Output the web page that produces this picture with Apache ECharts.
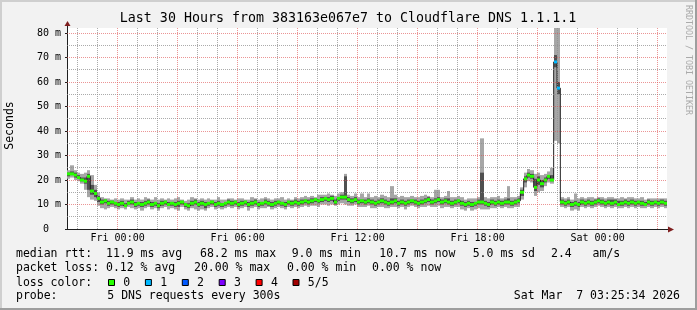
<!DOCTYPE html>
<html><head><meta charset="utf-8">
<script src="https://cdn.jsdelivr.net/npm/echarts@6/dist/echarts.min.js"></script>
<style>html,body{margin:0;padding:0;background:#f2f2f2}#c{width:697px;height:310px}</style>
</head><body><div id="c"></div>
<script>
// ---- data (10-minute samples, hours relative to Fri 00:00) ----
const START_HOUR = -2.53;
const END_HOUR = 27.47;
const SAMPLE_HOURS = 1 / 6;

const median = [
22.5,22.5,22,21,20,19.5,21.5,15.5,14.5,12.5,
11,11.5,10.5,11,10.5,10,10.5,9.5,10.5,11,
10,10.5,10,10.5,11,10,10.5,9.5,10.5,11,
10,10.5,10,10.5,11,10,9.5,10.5,11,10,
10.5,10,10.5,11,10,10.5,10,10.5,11,10.5,
11,10,10.5,11,10,10.5,11,10,10.5,11,
10.5,10,10.5,11,10.5,10,11,10.5,11,10.5,
11,11.5,11,11.5,12,11.5,12,12.5,12,12.5,
11,12.5,13,13,12,11.5,12,11,11.5,11,
11.5,11,10.5,11,11.5,11,10.5,11,11.5,10.5,
11,10.5,11,11.5,11,10.5,11,11.5,12,11,
11.5,12,11,11.5,11,10.5,11,11.5,10.5,10,
10.5,10,10.5,11,11,10.5,10,11,10.5,11,
10.5,11,11,10.5,11,11.5,15,20.5,22,21.5,
17,20,18.5,20,21.5,20,68.2,57.5,11,10.5,
11,10,10.5,10,11,10.5,11,10.5,11,11.5,
11,10.5,11,10.5,11,10,10.5,11,10.5,11,
10.5,11,10.5,10,11,10.5,11,10.5,11,10.5
];
const smokeLo = [
20.5,21,20,19.5,18.5,16,13,12,11.5,9.5,
8.5,8,8.5,9,8.5,8,8.5,8,9,8.5,
8,8.5,7.5,8.5,9,8,8.5,7.5,8.5,9,
8,8.5,8,7.5,9,8,7.5,8.5,8,7.5,
8,7.5,8.5,9,8,8.5,8,8.5,9,8.5,
9,8,8.5,9,7.5,8.5,9,8,8.5,8.5,
9,8,8.5,9,8.5,8,9,8.5,9,8.5,
9,9.5,9,9.5,9.5,9,10,10,9.5,10,
9.5,10,10.5,10,9.5,9.5,10,9,9,9,
9.5,8.5,8.5,9,9,8.5,8.5,9,9,8.5,
9,8,9,9.5,9,8.5,9,9,9.5,9,
9,9.5,8.5,9,9,8.5,9,9,8,7.5,
8.5,7.5,8,8.5,8,8,8,8.5,8.5,9,
8.5,9,8.5,8.5,9,9,12,17,19.5,19,
13.5,15,15.5,17.5,19,18.5,36,35,9,8.5,
9,7.5,8,7.5,9,8.5,9,8.5,9,9.5,
9,8.5,9,8.5,9,8.5,8.5,9,8.5,9,
8.5,9,8.5,8.5,9,8.5,9,8.5,9,8.5
];
const smokeQ1 = [
21.5,22,21,20.5,19.5,18.5,16,14,13,11,
10,10.5,9.5,10,9.5,9,9.5,9,10,10,
9,9.5,9,9.5,10,9,9.5,8.5,9.5,10,
9.5,9.5,9,9,10,9,8.5,9.5,10,9,
9.5,8.5,9.5,10,9,9.5,9,9.5,10,9.5,
10,9,9.5,10,9,9.5,10,9,9.5,10,
9.5,9,9.5,10,9.5,9,10,9.5,10,9.5,
10,10.5,10,10.5,11,10.5,11,11.5,11,11.5,
10,11.5,12,12,11,10.5,11,10,10.5,10,
10.5,10,9.5,10,10.5,10,9.5,10,10.5,9.5,
10,9.5,10,10.5,10,9.5,10,10.5,11,10,
10.5,11,10,10.5,10,9.5,10,10.5,9.5,9,
9.5,9,9.5,10,10,9.5,9,10,9.5,10,
9.5,10,10,9.5,10,10.5,13.5,19,21,20.5,
15.5,18,17,19,20.5,19.5,66,55,10,9.5,
10,9,9.5,9,10,9.5,10,9.5,10,10.5,
10,9.5,10,9.5,10,9.5,9.5,10,9.5,10,
9.5,10,9.5,9.5,10,9.5,10,9.5,10,9.5
];
const smokeQ3 = [
23,23.5,23,22,21,21,22.5,18,16,13.5,
12,12,11.5,11.5,11,11,11.5,10.5,11.5,12,
11,11,11,11.5,12,11,11,10.5,11.5,11.5,
11,11,11,11.5,11.5,10.5,10.5,11.5,12,11,
11.5,11,11,11.5,11,11.5,10.5,11,12,11.5,
11.5,11,11.5,11.5,11,11.5,12,11,11,12,
11.5,11,11.5,11.5,11,11,11.5,11.5,12,11.5,
12,12,12,12.5,12.5,12,13,13,13,13.5,
12,13,14,21.5,13,12.5,13,12,12,12,
12.5,12,11.5,12,12.5,12,11.5,12.5,12.5,11.5,
12,11.5,12,12,12,11.5,12,12.5,13,12,
12.5,13,12,12.5,12.5,11.5,12,12,11.5,11,
11.5,11,11,12,23,11.5,11,12,11.5,12,
11.5,12,12.5,11.5,12,12.5,16,21.5,23,22.5,
20.5,21.5,20,21,22,22,71,60,12,11.5,
12,11,11.5,11,12,11.5,12,11.5,12,12.5,
12,11.5,12,12,12,11.5,11.5,12,11.5,12,
11.5,11.5,11.5,11,12,11.5,11.5,11.5,12,11.5
];
const smokeHi = [
24,26,24,23,22.5,23,24,22,18,15,
13,12.5,12.5,12,12.5,12,12.5,12,12,13,
12,12.5,12,13,12.5,12,13,12,12.5,12,
12.5,12,12.5,13,12,11.5,12,13,12.5,12,
12.5,12,12.5,12,12,13,12,12,12.5,12.5,
12,12.5,12.5,12,12,13,12.5,12,12.5,13,
12.5,12,12.5,12.5,13,12,12.5,12,13,12.5,
13,13.5,13,13.5,13,14,14,14,14.5,14,
13.5,14.5,15,22.5,14,13.5,14.5,13,14.5,13,
14.5,13,13.5,13,14,13.5,13,17.5,14,13,
13.5,13,13,13.5,13,13,13.5,14,13.5,13,
16,16,13,13.5,15.5,13,13,13.5,13,12,
12.5,12.5,12.5,13,37,13,12.5,13,13,13.5,
12.5,13,17.5,13,13,13.5,17,23,24.5,24,
22.5,23,22,22.5,23.5,25,100,100,13,12.5,
13,12,14.5,12.5,13,12.5,13,13,12.5,13,
13,12.5,13,13,12.5,12.5,13,12.5,13,13,
12.5,12.5,13,12,12.5,12.5,12.5,12.5,12.5,12.5
];
// samples with lost pings: [sample index, pings lost]
const lossSamples = [[146, 1], [147, 1]];

const xTickHours = [0, 6, 12, 18, 24];
const xTickLabels = ['Fri 00:00', 'Fri 06:00', 'Fri 12:00', 'Fri 18:00', 'Sat 00:00'];
const yTicks = [0, 10, 20, 30, 40, 50, 60, 70, 80];
const Y_MAX = 82.04;
const lossLevels = ['0', '1', '2', '3', '4', '5/5'];
const lossColors = ['#26ff00', '#00b8ff', '#0059ff', '#7e00ff', '#ff0000', '#a10000'];

const titleText = 'Last 30 Hours from 383163e067e7 to Cloudflare DNS 1.1.1.1';
const legendRows = [
  [['median rtt:  11.9 ms avg', 16], ['68.2 ms max', 200], ['9.0 ms min', 291.7], ['10.7 ms now', 379.3], ['5.0 ms sd', 472.7], ['2.4   am/s', 551]],
  [['packet loss: 0.12 % avg', 16], ['20.00 % max', 194], ['0.00 % min', 287], ['0.00 % now', 372]],
  [['loss color:', 16]],
  [['probe:', 16], ['5 DNS requests every 300s', 107.3]]
];
const stampText = 'Sat Mar  7 03:25:34 2026';

// ---- layout / style ----
const GL = 67, GT = 28, GW = 600, GH = 201;
const MONO = '"DejaVu Sans Mono", monospace';
const MED_HALF = 0.6;

const hoursOf = median.map((_, i) => START_HOUR + (i + 0.5) * SAMPLE_HOURS);
const lossAt = median.map(() => 0);
lossSamples.forEach(([i, l]) => { lossAt[i] = l; });

// each sample drawn as a column [x-step/2, x+step/2] x [low, high]
function columnSeries(low, high, colorOf, z) {
  return {
    type: 'custom', z, silent: true, animation: false,
    data: low.map((v, i) => [hoursOf[i], v, high[i], i]),
    encode: { x: 0, y: [1, 2] },
    renderItem: (params, api) => {
      const h = api.value(0), a = api.value(1), b = api.value(2), idx = api.value(3);
      const color = colorOf(idx);
      if (!color) return null;
      const p0 = api.coord([h - SAMPLE_HOURS / 2, b]);
      const p1 = api.coord([h + SAMPLE_HOURS / 2, a]);
      const x0 = Math.round(p0[0]), x1 = Math.round(p1[0]);
      const cs = params.coordSys;
      const r = echarts.graphic.clipRectByRect(
        { x: x0, y: p0[1], width: x1 - x0, height: p1[1] - p0[1] },
        { x: cs.x, y: cs.y, width: cs.width, height: cs.height });
      if (!r) return null;
      return { type: 'rect', shape: r, style: { fill: color } };
    }
  };
}

const minorV = [], majorV = [];
for (let h = Math.ceil(START_HOUR); h <= Math.floor(END_HOUR); h++) {
  (h % 3 === 0 ? majorV : minorV).push({ xAxis: h });
}
const minorH = [], majorH = [];
for (let v = 5; v < Y_MAX; v += 5) {
  (v % 10 === 0 ? majorH : minorH).push({ yAxis: v });
}
function gridSeries(items, color) {
  return {
    type: 'line', data: [], silent: true, z: 1, animation: false,
    markLine: {
      silent: true, symbol: ['none', 'none'], label: { show: false }, animation: false,
      lineStyle: { color, width: 1, type: [1, 1] }, emphasis: { disabled: true }, data: items
    }
  };
}

const medLow = median.map((v) => v - MED_HALF);
const medHigh = median.map((v) => v + MED_HALF);

const series = [
  gridSeries(minorV.concat(minorH), 'rgba(143,143,143,0.75)'),
  gridSeries(majorV.concat(majorH), 'rgba(222,79,79,0.6)'),
  columnSeries(smokeLo, smokeHi, () => '#a6a6a6', 2),
  columnSeries(smokeQ1, smokeQ3, () => '#505050', 3),
  {
    type: 'line', step: 'middle', symbol: 'none', showSymbol: false, silent: true, animation: false, z: 4,
    data: median.map((v, i) => [hoursOf[i], v]), lineStyle: { color: '#202020', width: 1 }
  },
  columnSeries(medLow, medHigh, (i) => lossColors[lossAt[i]], 5)
];

// ---- graphic texts & frame ----
const graphic = [
  { type: 'rect', shape: { x: 0, y: 0, width: 697, height: 2 }, style: { fill: '#cfcfcf' }, silent: true },
  { type: 'rect', shape: { x: 0, y: 0, width: 2, height: 310 }, style: { fill: '#cfcfcf' }, silent: true },
  { type: 'rect', shape: { x: 0, y: 308, width: 697, height: 2 }, style: { fill: '#9e9e9e' }, silent: true },
  { type: 'rect', shape: { x: 695, y: 0, width: 2, height: 310 }, style: { fill: '#9e9e9e' }, silent: true },
  { type: 'text', x: 348, y: 19, style: { text: titleText, font: '13.3px ' + MONO, fill: '#000', align: 'center', verticalAlign: 'middle' } },
  { type: 'text', x: 10.5, y: 125.5, rotation: Math.PI / 2, style: { text: 'Seconds', font: '11.5px ' + MONO, fill: '#000', align: 'center', verticalAlign: 'middle' } },
  { type: 'text', x: 688.5, y: 60, rotation: -Math.PI / 2, style: { text: 'RRDTOOL / TOBI OETIKER', font: '8.3px ' + MONO, fill: '#aaaaaa', align: 'center', verticalAlign: 'middle' } },
  // axis arrows
  { type: 'line', shape: { x1: GL + 0.5, y1: GT, x2: GL + 0.5, y2: GT - 3 }, style: { stroke: '#1f1f1f', lineWidth: 1 } },
  { type: 'polygon', shape: { points: [[GL - 2.5, GT - 2], [GL + 3.5, GT - 2], [GL + 0.5, GT - 7]] }, style: { fill: '#7f1f1f' } },
  { type: 'line', shape: { x1: GL + GW, y1: GT + GH + 0.5, x2: GL + GW + 2, y2: GT + GH + 0.5 }, style: { stroke: '#1f1f1f', lineWidth: 1 } },
  { type: 'polygon', shape: { points: [[GL + GW + 1, GT + GH - 2.5], [GL + GW + 1, GT + GH + 3.5], [GL + GW + 7, GT + GH + 0.5]] }, style: { fill: '#7f1f1f' } },
  { type: 'text', x: 680, y: 296.3, style: { text: stampText, font: '11.5px ' + MONO, fill: '#000', align: 'right', verticalAlign: 'middle' } }
];
const rowY = [254.3, 268.3, 282.7, 296.3];
legendRows.forEach((row, r) => {
  row.forEach(([t, x]) => {
    graphic.push({ type: 'text', x, y: rowY[r], style: { text: t, font: '11.5px ' + MONO, fill: '#000', align: 'left', verticalAlign: 'middle' } });
  });
});
lossLevels.forEach((name, k) => {
  const sx = 108.5 + k * 36.9;
  graphic.push({ type: 'rect', shape: { x: sx, y: 279.5, width: 6, height: 6 }, style: { fill: lossColors[k], stroke: '#000', lineWidth: 1 } });
  graphic.push({ type: 'text', x: sx + 14.8, y: rowY[2], style: { text: name, font: '11.5px ' + MONO, fill: '#000', align: 'left', verticalAlign: 'middle' } });
});

const chart = echarts.init(document.getElementById('c'), null, { renderer: 'canvas' });
chart.setOption({
  animation: false,
  backgroundColor: '#f2f2f2',
  grid: { left: GL, top: GT, width: GW, height: GH, show: true, backgroundColor: '#ffffff', borderWidth: 0, containLabel: false },
  xAxis: {
    type: 'value', min: START_HOUR, max: END_HOUR,
    splitLine: { show: false },
    axisLine: { show: true, onZero: false, lineStyle: { color: '#1f1f1f', width: 1 } },
    axisTick: { show: false },
    axisLabel: {
      customValues: xTickHours, margin: 4, fontFamily: MONO, fontSize: 10, color: '#000',
      formatter: (v) => { const k = xTickHours.indexOf(v); return k < 0 ? '' : xTickLabels[k]; }
    }
  },
  yAxis: {
    type: 'value', min: 0, max: Y_MAX, interval: 10,
    splitLine: { show: false },
    axisLine: { show: true, onZero: false, lineStyle: { color: '#1f1f1f', width: 1 } },
    axisTick: { show: true, length: 2, customValues: yTicks, lineStyle: { color: '#1f1f1f' } },
    axisLabel: {
      customValues: yTicks, margin: 6, fontFamily: MONO, fontSize: 10, color: '#000',
      formatter: (v) => (v === 0 ? '0  ' : (yTicks.indexOf(v) >= 0 ? v + ' m' : ''))
    }
  },
  series,
  graphic
});
</script></body></html>
